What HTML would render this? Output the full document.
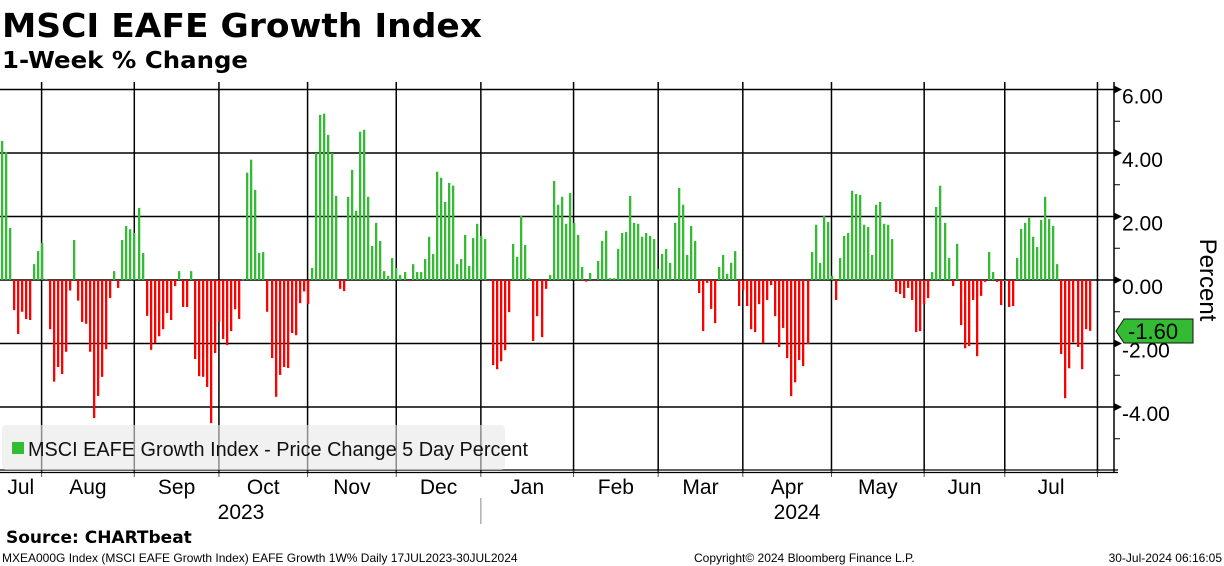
<!DOCTYPE html>
<html><head><meta charset="utf-8">
<style>
html,body{margin:0;padding:0;background:#fff;}
svg{display:block;}
text{font-family:"Liberation Sans",sans-serif;}
.t{font-family:"DejaVu Sans","Liberation Sans",sans-serif;font-weight:bold;}
</style></head>
<body>
<svg id="chart" width="1224" height="566" viewBox="0 0 1224 566">
<text class="t" x="2" y="37" font-size="33" textLength="480" lengthAdjust="spacingAndGlyphs">MSCI EAFE Growth Index</text>
<text class="t" x="2" y="68" font-size="23" textLength="246" lengthAdjust="spacingAndGlyphs">1-Week % Change</text>
<g id="grid"></g>
<g id="bars"></g>
<g id="axes"></g>
<g>
<rect x="2" y="425" width="503" height="45" rx="4" fill="#e8e8e8" fill-opacity="0.6"/>
<rect x="12" y="442" width="12" height="12" fill="#33bb33"/>
<text x="28" y="456" font-size="20" fill="#111" textLength="500" lengthAdjust="spacingAndGlyphs">MSCI EAFE Growth Index - Price Change 5 Day Percent</text>
</g>
<text x="1200" y="280" font-size="24" text-anchor="middle" transform="rotate(90 1200 280)">Percent</text>
<g>
<polygon points="1116,331 1124,319 1193,319 1193,343 1124,343" fill="#33bb33" stroke="#111" stroke-width="1"/>
<text x="1128" y="339" font-size="22" fill="#000">-1.60</text>
</g>
<text class="t" x="6" y="543" font-size="17">Source: CHARTbeat</text>
<text x="2" y="562" font-size="12">MXEA000G Index (MSCI EAFE Growth Index) EAFE Growth 1W%  Daily 17JUL2023-30JUL2024</text>
<text x="694" y="562" font-size="12">Copyright© 2024 Bloomberg Finance L.P.</text>
<text x="1222" y="562" font-size="12" text-anchor="end">30-Jul-2024 06:16:05</text>
</svg>
<script>
const values = [4.38,4.03,1.64,-0.95,-1.7,-1.0,-1.23,-1.26,0.5,0.91,1.17,0.03,-1.55,-3.2,-2.74,-2.96,-2.26,-0.33,1.26,-0.65,
-1.32,-1.38,-2.26,-4.35,-3.65,-3.05,-2.18,-0.57,0.28,-0.25,1.26,1.7,1.6,1.48,2.27,0.85,-1.13,-2.2,-1.99,-1.77,
-1.55,-1.04,-1.26,-0.19,0.28,-0.85,-0.85,0.28,-2.49,-3.03,-3.05,-3.37,-4.51,-2.3,-1.32,-1.86,-2.05,-1.61,-0.92,-1.23,
0.02,3.38,3.79,2.84,0.85,0.88,-1.0,-2.46,-3.68,-2.99,-2.74,-2.77,-1.67,-1.74,-0.73,-0.36,-0.76,0.38,4.0,5.2,
5.24,4.57,4.0,2.65,-0.28,-0.35,2.62,3.47,2.18,4.67,4.73,2.62,1.07,1.8,1.23,0.28,0.13,0.69,0.38,0.16,
0.25,-0.03,0.5,0.25,0.25,0.66,1.36,0.82,3.41,3.22,2.46,3.06,2.97,0.5,0.66,1.42,0.44,1.32,1.77,1.39,
1.29,-0.03,-2.68,-2.81,-2.56,-2.21,-1.01,1.14,0.73,2.02,1.1,0.06,-1.92,-1.14,-1.8,-0.28,0.16,3.12,2.37,2.62,
1.77,2.74,1.8,1.42,0.41,-0.05,0.22,-0.03,0.6,1.23,1.55,0.06,0.06,0.98,1.48,1.51,2.65,1.8,1.77,1.36,
1.48,1.39,1.29,0.35,0.82,0.98,0.54,1.8,2.9,2.37,0.79,1.7,1.23,-0.41,-1.61,-0.09,-0.91,-1.36,0.41,0.79,
0.19,0.54,0.91,-0.82,-0.32,-0.82,-1.55,-1.64,-0.76,-1.99,-0.63,-0.16,-1.14,-2.11,-1.51,-2.46,-3.66,-3.22,-2.52,-2.71,
-2.02,0.88,1.74,0.54,2.02,1.83,0.13,-0.63,0.69,1.39,1.48,2.81,2.71,2.68,1.74,1.67,0.79,2.37,2.46,1.77,
1.74,1.29,-0.38,-0.44,-0.57,-0.25,-0.63,-1.64,-1.61,-0.76,-0.57,0.25,2.3,2.97,1.8,0.69,-0.19,1.14,-1.42,-2.15,
-2.08,-0.63,-2.4,-0.5,-0.06,0.88,0.25,-0.06,-0.79,0,-0.85,-0.82,0.69,1.61,1.8,1.96,1.36,1.04,1.89,2.62,
1.92,1.7,0.5,-2.33,-3.72,-2.78,-1.96,-2.11,-2.81,-1.55,-1.6];
const monthStarts = [11,34,55,77,99,120,143,164,185,207,230,250,273];
const monthLabels = ["Aug","Sep","Oct","Nov","Dec","Jan","Feb","Mar","Apr","May","Jun","Jul"];
const yTicks = [6,4,2,0,-2,-4];
const yearLabels = ["2023","2024"];

const NS="http://www.w3.org/2000/svg";
function xs(i){return 4.03*i+1;}
function ys(v){return 280 - v*31.75;}
function mk(tag,attrs,parent){const e=document.createElementNS(NS,tag);for(const k in attrs)e.setAttribute(k,attrs[k]);parent.appendChild(e);return e;}
const grid=document.getElementById('grid'), bars=document.getElementById('bars'), axes=document.getElementById('axes');
const axisX=1114;
yTicks.forEach(v=>{
  const l=mk('line',{x1:0,x2:axisX,y1:ys(v),y2:ys(v),stroke:'#000','stroke-width':1.5},grid);
  
  
  const a=mk('polygon',{points:`${axisX},${ys(v)-4} ${axisX+8},${ys(v)} ${axisX},${ys(v)+4}`,fill:'#000'},axes);
  
  
  const t=mk('text',{x:axisX+8,y:ys(v)+14,'font-size':21},axes);
  t.textContent=(v<0?'-':'')+Math.abs(v).toFixed(2);
  
  
});
[5,3,1,-1,-3,-5].forEach(v=>{
  const m=mk('line',{x1:axisX,x2:axisX+6,y1:ys(v),y2:ys(v),stroke:'#000','stroke-width':1},axes);
  
  
});
const gx=monthStarts.map(i=>xs(i-1)+0.3);
gx.forEach((x,k)=>{
  const l=mk('line',{x1:x,x2:x,y1:82,y2:472,stroke:'#000','stroke-width':1.5},grid);
  
  
  const tk=mk('line',{x1:x,x2:x,y1:470,y2:477,stroke:'#555','stroke-width':1},axes);
  
  
});
values.forEach((v,i)=>{
  const y0=ys(0), y1=ys(v);
  const r=mk('rect',{x:Math.round(xs(i)-0.5),y:Math.min(y0,y1),width:2.3,height:Math.max(Math.abs(y1-y0),0.8),fill:v>=0?'#33bb33':'#ff0000'},bars);
  
  
});
let ax=mk('line',{x1:axisX,x2:axisX,y1:82,y2:472,stroke:'#000','stroke-width':1.5},axes);


ax=mk('line',{x1:0,x2:axisX+4,y1:470,y2:470,stroke:'#000','stroke-width':1.2},axes);


ax=mk('line',{x1:0,x2:axisX+4,y1:472.5,y2:472.5,stroke:'#000','stroke-width':1.2},axes);


const centers=[(0+gx[0])/2];
for(let k=0;k<gx.length-1;k++)centers.push((gx[k]+gx[k+1])/2);
const allLabels=["Jul"].concat(monthLabels);
allLabels.forEach((m,k)=>{
  const t=mk('text',{x:centers[k],y:494,'font-size':21,'text-anchor':'middle'},axes);
  t.textContent=m;
  
  
});
const sep=mk('line',{x1:gx[5],x2:gx[5],y1:498,y2:524,stroke:'#888','stroke-width':1},axes);


[[241,yearLabels[0]],[797,yearLabels[1]]].forEach(p=>{
  const t=mk('text',{x:p[0],y:519,'font-size':21,'text-anchor':'middle'},axes);
  t.textContent=p[1];
  
  
});
</script>
</body></html>
